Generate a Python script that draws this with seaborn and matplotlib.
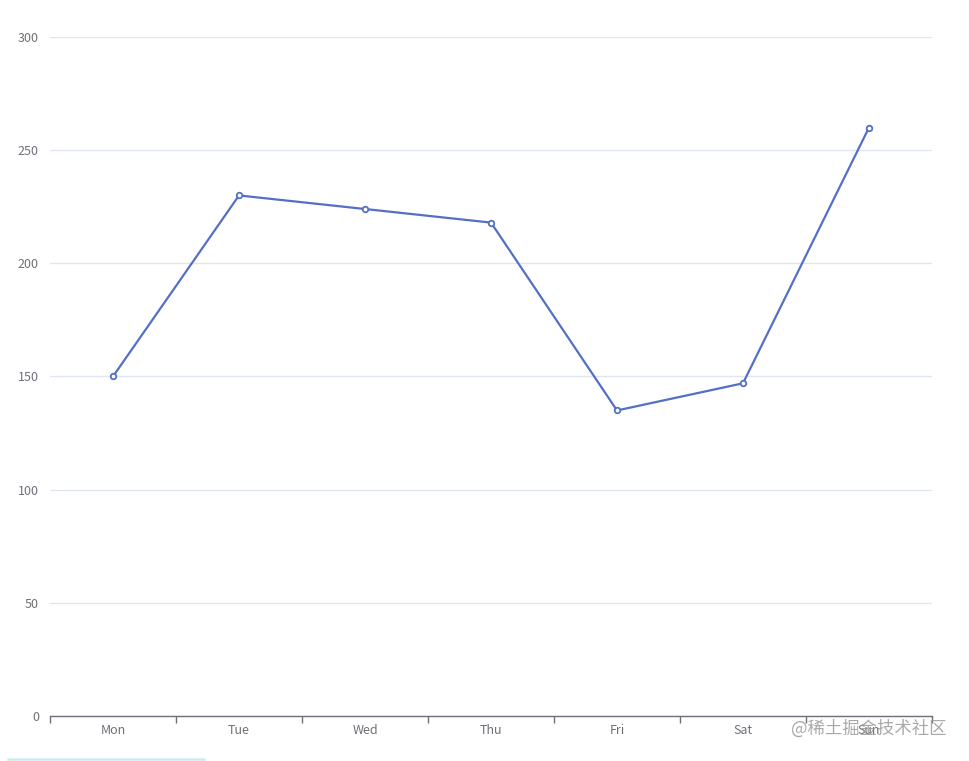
import matplotlib
matplotlib.use("Agg")
import matplotlib.pyplot as plt
import seaborn as sns
import pandas as pd
from matplotlib.patches import FancyBboxPatch

# --- dados ---
dias = ["Mon", "Tue", "Wed", "Thu", "Fri", "Sat", "Sun"]
valores = [150, 230, 224, 218, 135, 147, 260]
y_ticks = [0, 50, 100, 150, 200, 250, 300]

df = pd.DataFrame({"dia": dias, "valor": valores})

sns.set_style("white")
plt.rcParams["font.family"] = ["Noto Sans CJK SC", "DejaVu Sans"]

fig = plt.figure(figsize=(9.69, 7.61), dpi=100)
ax = fig.add_axes([50 / 969, 45 / 761, 882 / 969, 679 / 761])

cor = "#5470c6"
cinza = "#6e7079"

sns.lineplot(data=df, x="dia", y="valor", ax=ax, color=cor, linewidth=1.6,
             marker="o", markersize=4, markerfacecolor="white",
             markeredgecolor=cor, markeredgewidth=1.3, zorder=3)

ax.set_xlim(-0.5, len(dias) - 0.5)
ax.set_ylim(0, 300)
ax.set_yticks(y_ticks)
ax.set_yticklabels([str(v) for v in y_ticks], color=cinza, fontsize=9)
ax.set_xticks(range(len(dias)))
ax.set_xticklabels(dias, color=cinza, fontsize=9)
ax.set_xticks([i - 0.5 for i in range(len(dias) + 1)], minor=True)
ax.tick_params(axis="x", which="major", bottom=True, length=0, pad=6)
ax.tick_params(axis="x", which="minor", bottom=True, length=5, color=cinza, width=1)
ax.tick_params(axis="y", length=0, pad=8)

ax.grid(axis="y", color="#e0e6f1", linewidth=1)
ax.set_axisbelow(True)
for s in ["top", "right", "left"]:
    ax.spines[s].set_visible(False)
ax.spines["bottom"].set_color(cinza)
ax.spines["bottom"].set_linewidth(1)
ax.spines["bottom"].set_zorder(4)
ax.set_xlabel("")
ax.set_ylabel("")

# marca d'água e barrinha no rodapé
fig.text(946 / 969, 1 - 729 / 761, "@稀土掘金技术社区", ha="right", va="center",
         fontsize=12.5, color="#9a9a9a", alpha=0.85)
fig.patches.append(FancyBboxPatch((8 / 969, -2 / 761), 197 / 969, 4 / 761,
                                  boxstyle="round,pad=0", transform=fig.transFigure,
                                  facecolor="#d6f0f4", edgecolor="#bfe6ec", linewidth=0.8))

plt.savefig("out.png", dpi=100)
plt.close()
